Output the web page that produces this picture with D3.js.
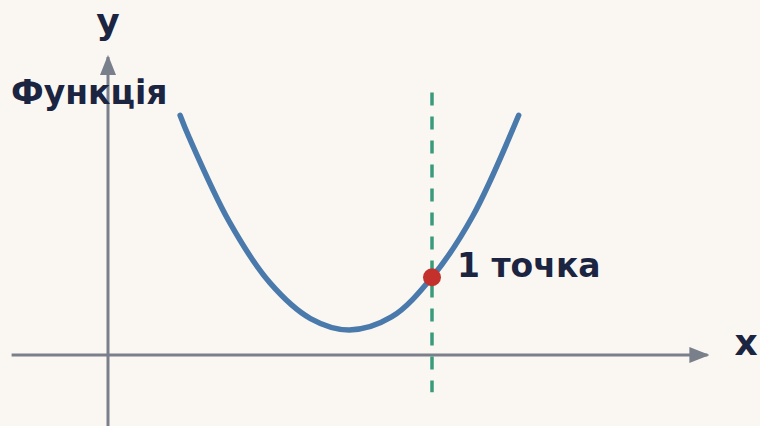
<!DOCTYPE html>
<html><head><meta charset="utf-8">
<script src="https://cdn.jsdelivr.net/npm/d3@7/dist/d3.min.js"></script>
<style>html,body{margin:0;padding:0;background:#faf7f2;}svg{display:block;}</style>
</head><body><svg id="c" width="760" height="426"></svg>
<script>
// curve samples (math units)
const curveX = [0.89, 1.0, 1.5, 2.0, 2.5, 2.98, 3.5, 4.0, 4.5, 5.07];
const curveY = [2.96, 2.69, 1.64, 0.89, 0.45, 0.31, 0.47, 0.96, 1.71, 2.96];
const markX = [4];
const markY = [0.96];
const labels = {y: "y", x: "x", func: "Функція", point: "1 точка"};

const W = 760, H = 426;
const svg = d3.select("#c");
const x = d3.scaleLinear().domain([0, 4]).range([108, 432]);
const y = d3.scaleLinear().domain([0, 3]).range([355, 112]);

const axisCol = "#7a7f8c", textCol = "#1b2440";
svg.append("rect").attr("width", W).attr("height", H).attr("fill", "#faf7f2");

const defs = svg.append("defs");
defs.append("marker").attr("id", "arr").attr("viewBox", "0 0 20 16")
  .attr("refX", 18).attr("refY", 8).attr("markerWidth", 20).attr("markerHeight", 16)
  .attr("markerUnits", "userSpaceOnUse").attr("orient", "auto")
  .append("path").attr("d", "M0,0L20,8L0,16Z").attr("fill", axisCol);

// axes
svg.append("line").attr("x1", x(-1.19)).attr("x2", x(7.4)).attr("y1", y(0)).attr("y2", y(0))
  .attr("stroke", axisCol).attr("stroke-width", 3).attr("marker-end", "url(#arr)");
svg.append("line").attr("x1", x(0)).attr("x2", x(0)).attr("y1", H).attr("y2", y(3.68))
  .attr("stroke", axisCol).attr("stroke-width", 3).attr("marker-end", "url(#arr)");

// dashed vertical
svg.append("line").attr("x1", x(markX[0])).attr("x2", x(markX[0]))
  .attr("y1", y(3.24)).attr("y2", y(-0.46))
  .attr("stroke", "#3a9a7c").attr("stroke-width", 3.5).attr("stroke-dasharray", "13,11");

// curve
const pts = curveX.map((v, i) => [v, curveY[i]]);
svg.append("path").datum(pts)
  .attr("d", d3.line().x(d => x(d[0])).y(d => y(d[1])).curve(d3.curveCatmullRom.alpha(0.5)))
  .attr("fill", "none").attr("stroke", "#4a7aab").attr("stroke-width", 5.5).attr("stroke-linecap", "round");

// point
svg.append("circle").attr("cx", x(markX[0])).attr("cy", y(markY[0])).attr("r", 9).attr("fill", "#c4302b");

const font = "DejaVu Sans";
svg.append("text").attr("x", x(0)).attr("y", 34).attr("text-anchor", "middle")
  .attr("font-family", font).attr("font-weight", "bold").attr("font-size", 36).attr("fill", textCol).text(labels.y);
svg.append("text").attr("x", 746).attr("y", 355).attr("text-anchor", "middle")
  .attr("font-family", font).attr("font-weight", "bold").attr("font-size", 36).attr("fill", textCol).text(labels.x);
svg.append("text").attr("x", 11).attr("y", 104)
  .attr("font-family", font).attr("font-weight", "bold").attr("font-size", 33).attr("fill", textCol).text(labels.func);
svg.append("text").attr("x", 457).attr("y", 277)
  .attr("font-family", font).attr("font-weight", "bold").attr("font-size", 33).attr("fill", textCol).text(labels.point);
</script></body></html>
